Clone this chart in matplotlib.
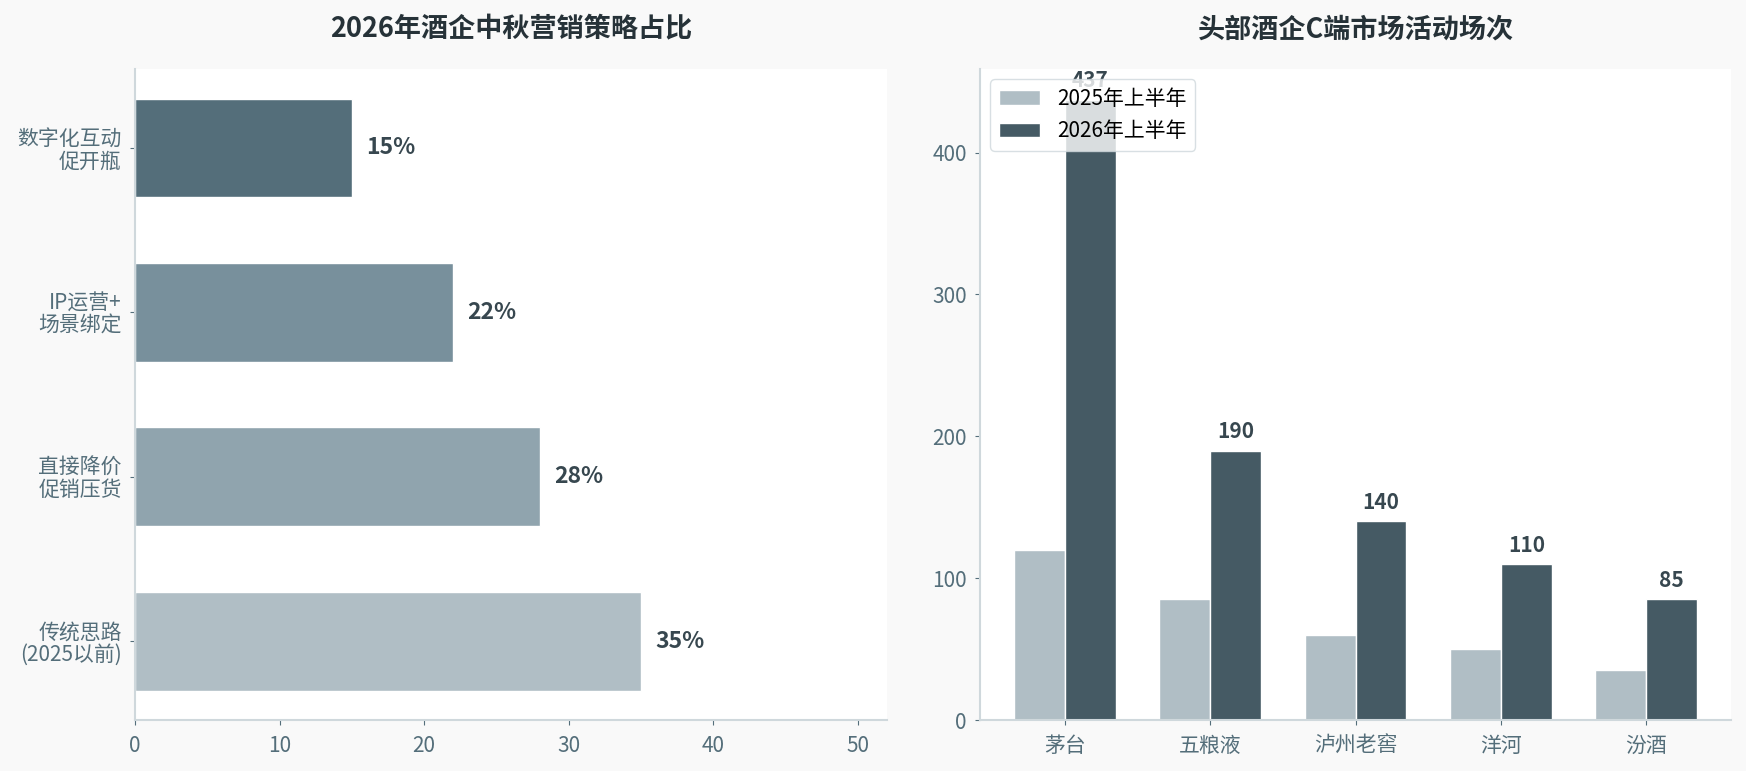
import matplotlib
matplotlib.use("Agg")
import matplotlib.pyplot as plt
import numpy as np

plt.rcParams['font.family'] = ['Noto Sans CJK SC', 'DejaVu Sans']

# left chart: strategy share (%)
strategies = ['传统思路\n(2025以前)', '直接降价\n促销压货', 'IP运营+\n场景绑定', '数字化互动\n促开瓶']
shares = [35, 28, 22, 15]
share_colors = ['#b0bec5', '#90a4ae', '#78909c', '#546e7a']

# right chart: C-end activity counts
brands = ['茅台', '五粮液', '泸州老窖', '洋河', '汾酒']
h1_2025 = [120, 85, 60, 50, 35]
h1_2026 = [437, 190, 140, 110, 85]
series_names = ['2025年上半年', '2026年上半年']

tick_col = '#546e7a'
spine_col = '#cfd8dc'
label_col = '#37474f'
title_col = '#263238'

fig = plt.figure(figsize=(17.46, 7.71), dpi=100, facecolor='#f9f9f9')
ax1 = fig.add_axes([0.0773, 0.066, 0.4307, 0.8445])
ax2 = fig.add_axes([0.5613, 0.066, 0.4302, 0.8445])

for ax in (ax1, ax2):
    ax.set_facecolor('white')
    ax.spines['top'].set_visible(False)
    ax.spines['right'].set_visible(False)
    ax.spines['left'].set_color(spine_col)
    ax.spines['bottom'].set_color(spine_col)
    ax.spines['left'].set_linewidth(1.5)
    ax.spines['bottom'].set_linewidth(1.5)
    ax.tick_params(colors=tick_col, labelsize=15)
    ax.tick_params(axis='y', pad=6)
    ax.tick_params(axis='x', pad=7)

# --- left: horizontal bars
y = np.arange(len(strategies))
ax1.barh(y, shares, height=0.6, color=share_colors, edgecolor='white',
         linewidth=1)
for yi, v in zip(y, shares):
    ax1.text(v + 1, yi, f'{v}%', va='center', ha='left', fontsize=16.5,
             fontweight='bold', color=label_col)
ax1.set_yticks(y)
ax1.set_yticklabels(strategies, linespacing=1.0)
ax1.set_xlim(0, 52)
ax1.set_xticks([0, 10, 20, 30, 40, 50])
ax1.set_title('2026年酒企中秋营销策略占比', fontsize=19.5, fontweight='bold',
              color=title_col, pad=23)

# --- right: grouped bars
x = np.arange(len(brands))
w = 0.35
ax2.bar(x - w / 2, h1_2025, width=w, color='#b0bec5', edgecolor='white',
        linewidth=1, label=series_names[0])
ax2.bar(x + w / 2, h1_2026, width=w, color='#455a64', edgecolor='white',
        linewidth=1, label=series_names[1])
for xi, v in zip(x, h1_2026):
    ax2.text(xi + w / 2, v + 6, str(v), ha='center', va='bottom', fontsize=15,
             fontweight='bold', color=label_col)
ax2.set_xticks(x)
ax2.set_xticklabels(brands)
ax2.set_yticks([0, 100, 200, 300, 400])
ax2.set_title('头部酒企C端市场活动场次', fontsize=19.5, fontweight='bold',
              color=title_col, pad=23)
leg = ax2.legend(loc='upper left', fontsize=15, frameon=True)
leg.get_frame().set_edgecolor(spine_col)

fig.savefig('out.png', dpi=100, facecolor=fig.get_facecolor())
